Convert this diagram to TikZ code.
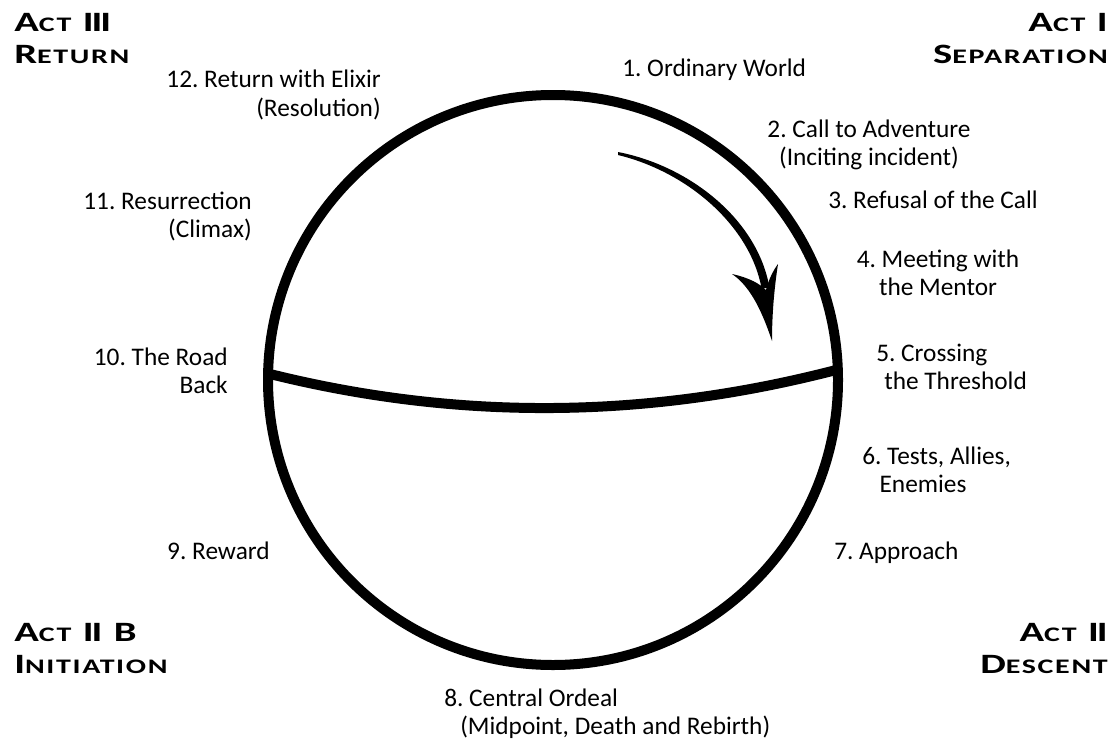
\documentclass[tikz,border=0pt]{standalone}
\usepackage{fontspec}
\setmainfont{Carlito}
\newfontfamily\headfont[FakeStretch=1.45,LetterSpace=8]{Carlito}
\newcommand\hbig[1]{{\fontsize{21pt}{24pt}\selectfont #1}}
\newcommand\hsmall[1]{{\fontsize{15.5pt}{24pt}\selectfont #1}}
\newcommand\tightI{\kern-1.5pt}
\frenchspacing
\begin{document}
\begin{tikzpicture}[x=0.75pt,y=-0.75pt,
  lbl/.style={inner sep=0pt, font=\frenchspacing\fontsize{19pt}{21pt}\selectfont},
  actlbl/.style={inner sep=0pt, font=\headfont\bfseries\fontsize{21pt}{24pt}\selectfont},
  ring/.style={line width=7.5pt}]
\useasboundingbox (0,0) rectangle (1116,742);
\node[circle, draw, ring, outer sep=0pt, inner sep=0pt, minimum size=427.5pt] (c) at (553,380) {};
\coordinate (L) at (270,374);
\coordinate (R) at (836,370);
\draw[ring] (L) .. controls (459,421) and (647,419) .. (R);
% arrow
\fill (618,152) .. controls (690,166) and (758,220) .. (769.5,288)
  -- (761.5,288) .. controls (750,226) and (688,172) .. (618,155) -- cycle;
\fill (772,341) .. controls (760,305) and (748,285) .. (732,274)
  .. controls (750,278) and (760,284) .. (766,290)
  .. controls (768,282) and (772,272) .. (778,264)
  .. controls (774,290) and (772,315) .. (772,341) -- cycle;
% labels (multi-line nodes: base = last line)
\node[lbl, anchor=base west] (s1) at (622,77) {1. Ordinary World};
\node[lbl, anchor=base, align=center] (s2) at (869,165) {2. Call to Adventure\\(Inciting incident)};
\node[lbl, anchor=base west] (s3) at (828,208) {3. Refusal of the Call};
\node[lbl, anchor=base, align=center] (s4) at (938,295) {4. Meeting with\\the Mentor};
\node[lbl, anchor=base west, align=left] (s5) at (876,389) {5. Crossing\\\hspace*{6pt}the Threshold};
\node[lbl, anchor=base west, align=left] (s6) at (862,492) {6. Tests, Allies,\\\hspace*{13pt}Enemies};
\node[lbl, anchor=base west] (s7) at (834,559) {7. Approach};
\node[lbl, anchor=base west, align=left] (s8) at (444,734) {8. Central Ordeal\\\hspace*{12pt}(Midpoint, Death and Rebirth)};
\node[lbl, anchor=base east] (s9) at (270,559) {9. Reward};
\node[lbl, anchor=base east, align=right] (s10) at (228,393) {10. The Road\\Back};
\node[lbl, anchor=base east, align=right] (s11) at (252,237) {11. Resurrection\\(Climax)};
\node[lbl, anchor=base east, align=right] (s12) at (381,116) {12. Return with Elixir\\(Resolution)};
% acts
\node[actlbl, anchor=base west, align=left] (a3) at (14,64) {\hbig{A}\hsmall{CT} \hbig{I\tightI I\tightI I}\\\hbig{R}\hsmall{ETURN}};
\node[actlbl, anchor=base east, align=right] (a1) at (1108,64) {\hbig{A}\hsmall{CT} \hbig{I}\\\hbig{S}\hsmall{EPARATION}};
\node[actlbl, anchor=base west, align=left] (a2b) at (14,673) {\hbig{A}\hsmall{CT} \hbig{I\tightI I B}\\\hbig{I}\hsmall{NITIATION}};
\node[actlbl, anchor=base east, align=right] (a2) at (1108,673) {\hbig{A}\hsmall{CT} \hbig{I\tightI I}\\\hbig{D}\hsmall{ESCENT}};
\end{tikzpicture}
\end{document}
